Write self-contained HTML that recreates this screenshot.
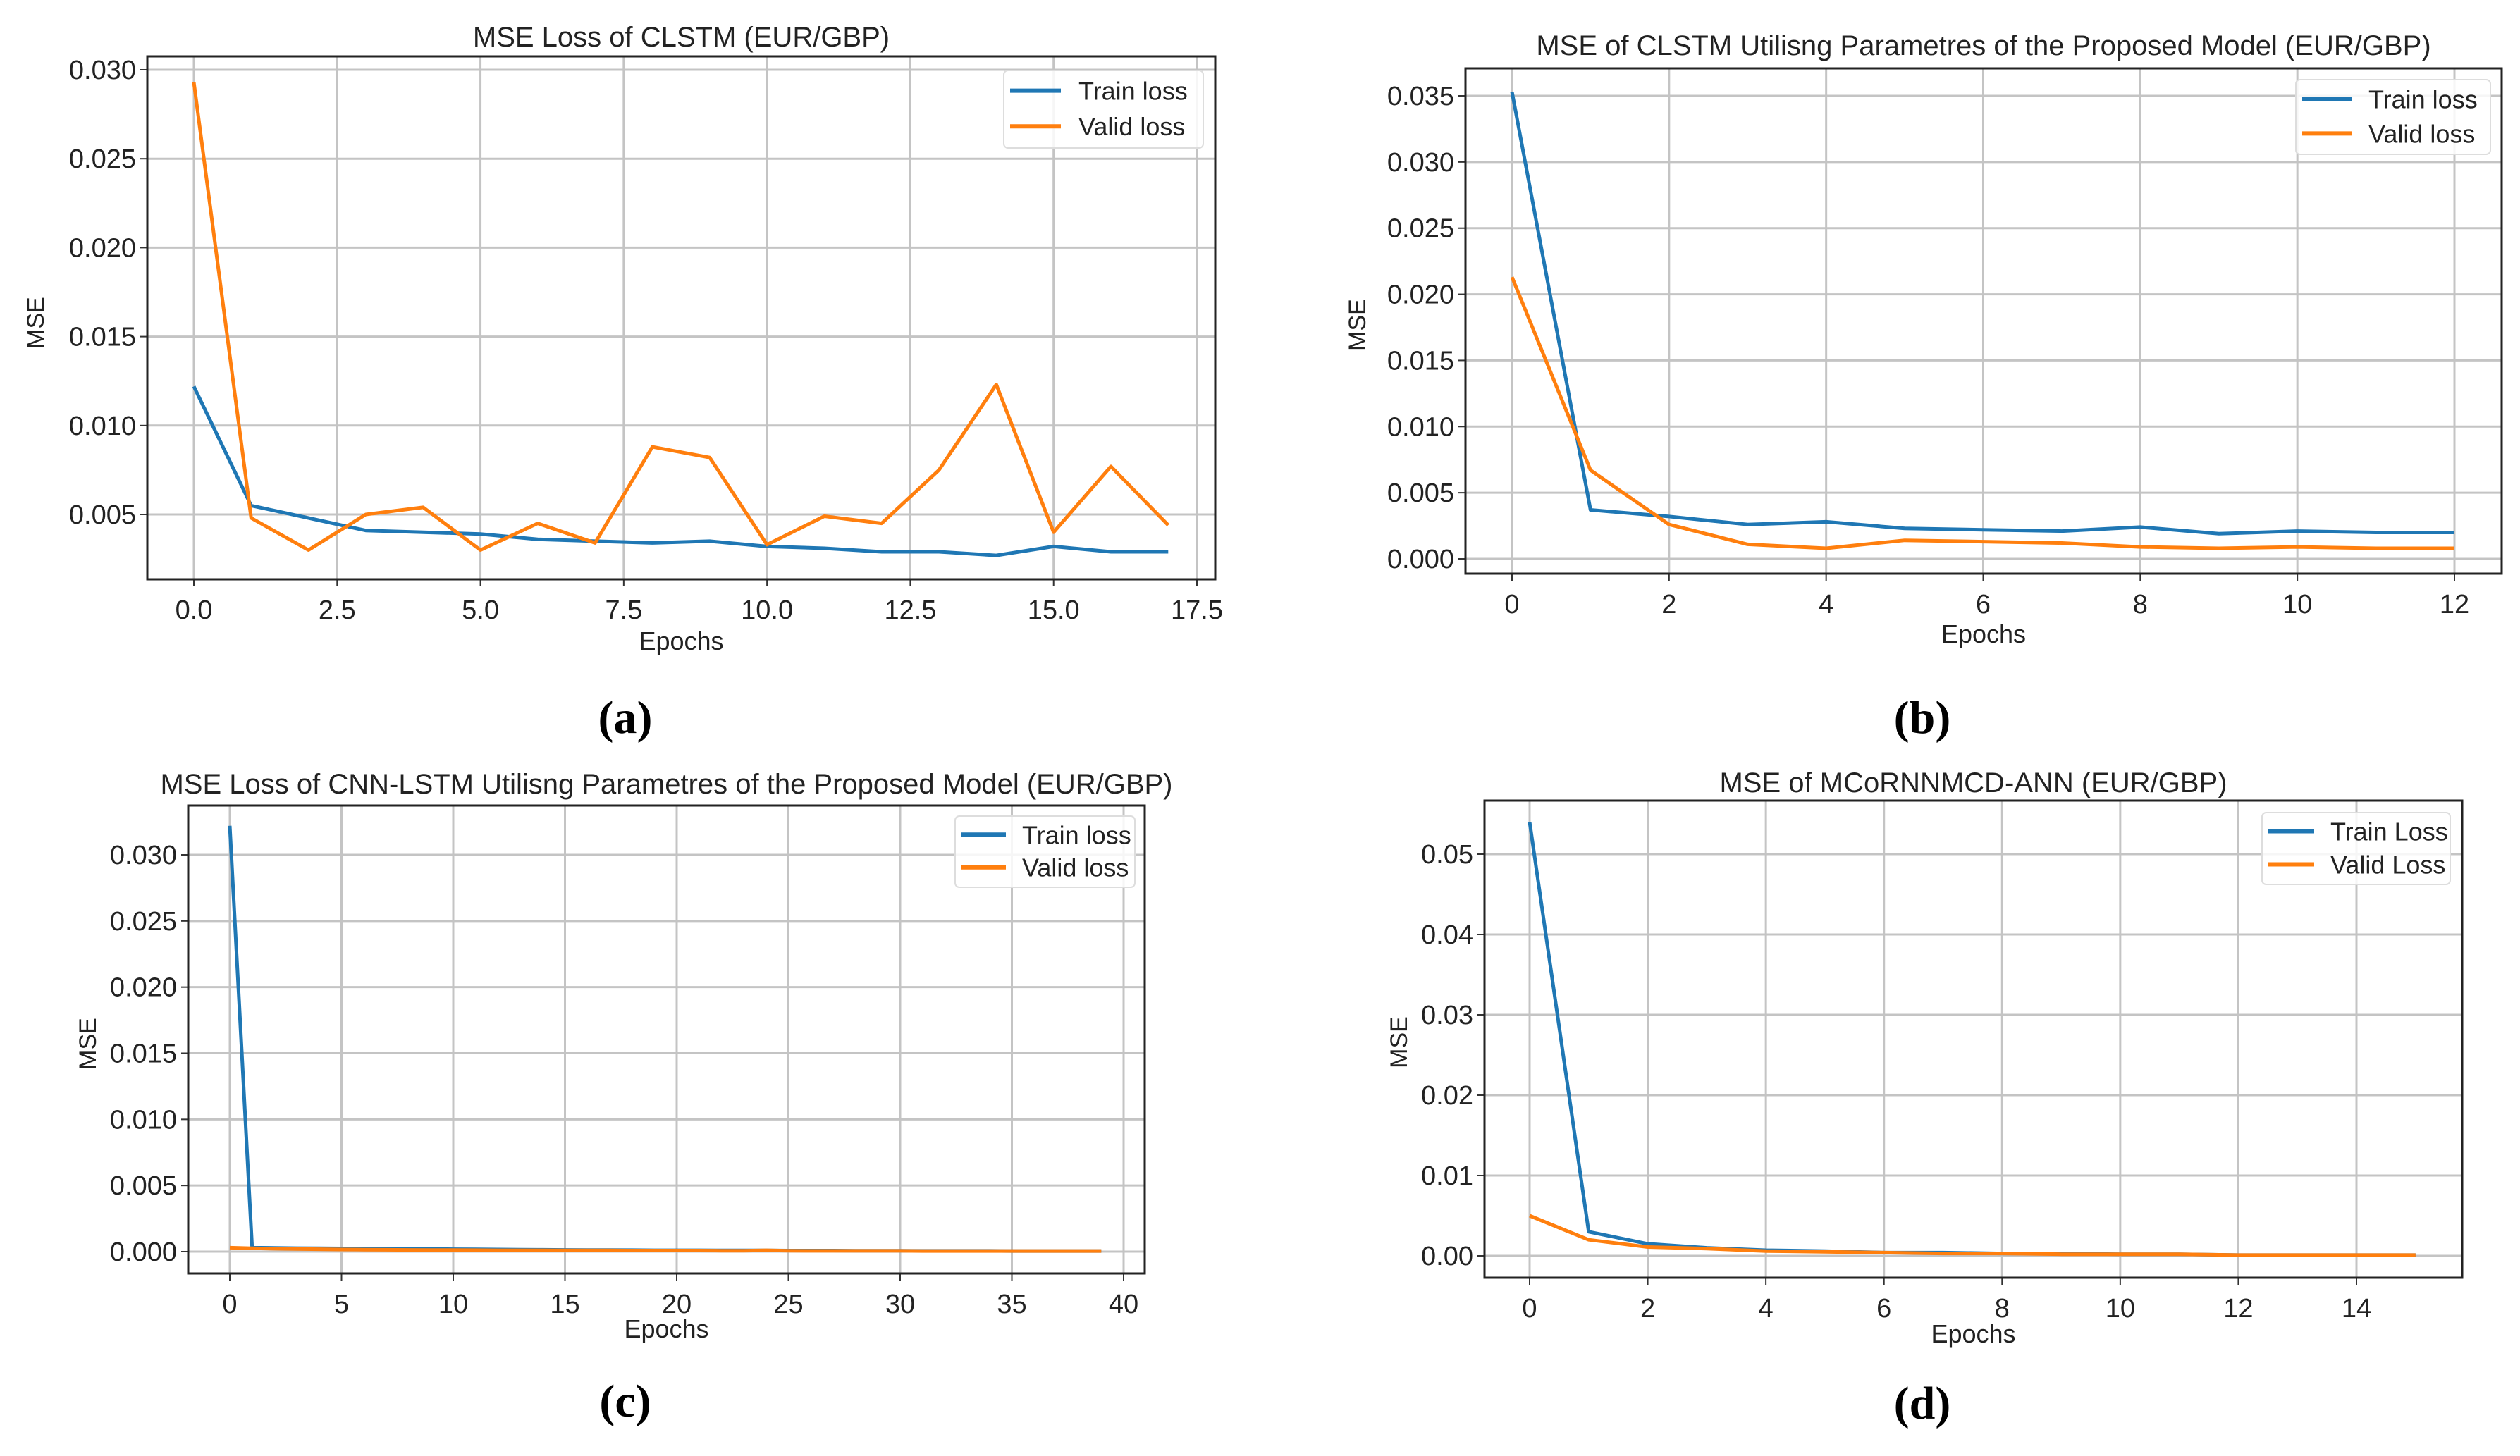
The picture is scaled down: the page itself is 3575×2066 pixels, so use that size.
<!DOCTYPE html>
<html><head><meta charset="utf-8">
<style>
html,body{margin:0;padding:0;background:#fff;}
svg{display:block;}
text{font-family:"Liberation Sans","DejaVu Sans",sans-serif;fill:#222;}
.lab{font-family:"Liberation Serif",serif;font-weight:bold;fill:#000;}
</style></head>
<body>
<svg id="fig" width="3575" height="2066" viewBox="0 0 3575 2066" xmlns="http://www.w3.org/2000/svg"></svg>
<script>
// Panel (a)
const aEpochs = [0,1,2,3,4,5,6,7,8,9,10,11,12,13,14,15,16,17];
const aTrain = [0.0122,0.0055,0.0048,0.0041,0.0040,0.0039,0.0036,0.0035,0.0034,0.0035,0.0032,0.0031,0.0029,0.0029,0.0027,0.0032,0.0029,0.0029];
const aValid = [0.0293,0.0048,0.0030,0.0050,0.0054,0.0030,0.0045,0.0034,0.0088,0.0082,0.0033,0.0049,0.0045,0.0075,0.0123,0.0040,0.0077,0.0044];
const aXTicks = [0,2.5,5,7.5,10,12.5,15,17.5];
const aXLabels = ["0.0","2.5","5.0","7.5","10.0","12.5","15.0","17.5"];
const aYTicks = [0.005,0.010,0.015,0.020,0.025,0.030];
const aYLabels = ["0.005","0.010","0.015","0.020","0.025","0.030"];
// Panel (b)
const bEpochs = [0,1,2,3,4,5,6,7,8,9,10,11,12];
const bTrain = [0.0353,0.0037,0.0032,0.0026,0.0028,0.0023,0.0022,0.0021,0.0024,0.0019,0.0021,0.0020,0.0020];
const bValid = [0.0213,0.0067,0.0026,0.0011,0.0008,0.0014,0.0013,0.0012,0.0009,0.0008,0.0009,0.0008,0.0008];
const bXTicks = [0,2,4,6,8,10,12];
const bXLabels = ["0","2","4","6","8","10","12"];
const bYTicks = [0,0.005,0.010,0.015,0.020,0.025,0.030,0.035];
const bYLabels = ["0.000","0.005","0.010","0.015","0.020","0.025","0.030","0.035"];
// Panel (c)
const cEpochs = [0,1,2,3,4,5,6,7,8,9,10,11,12,13,14,15,16,17,18,19,20,21,22,23,24,25,26,27,28,29,30,31,32,33,34,35,36,37,38,39];
const cTrain = [0.0322,0.0003,0.00028,0.00026,0.00025,0.00024,0.00022,0.00021,0.0002,0.00019,0.00018,0.00017,0.00016,0.00015,0.00014,0.00013,0.00012,0.00012,0.00011,0.0001,0.0001,0.0001,0.00009,0.00009,0.00009,0.00008,0.00008,0.00008,0.00007,0.00007,0.00007,0.00006,0.00006,0.00006,0.00006,0.00005,0.00005,0.00005,0.00005,0.00005];
const cValid = [0.0003,0.00025,0.00022,0.0002,0.00018,0.00016,0.00015,0.00014,0.00013,0.00012,0.00012,0.00011,0.0001,0.0001,0.0001,0.00009,0.00009,0.00009,0.00008,0.00008,0.00008,0.00008,0.00007,0.00007,0.0001,0.00007,0.00006,0.00006,0.00006,0.00006,0.00006,0.00005,0.00005,0.00005,0.00005,0.00005,0.00005,0.00005,0.00005,0.00005];
const cXTicks = [0,5,10,15,20,25,30,35,40];
const cXLabels = ["0","5","10","15","20","25","30","35","40"];
const cYTicks = [0,0.005,0.010,0.015,0.020,0.025,0.030];
const cYLabels = ["0.000","0.005","0.010","0.015","0.020","0.025","0.030"];
// Panel (d)
const dEpochs = [0,1,2,3,4,5,6,7,8,9,10,11,12,13,14,15];
const dTrain = [0.054,0.003,0.0015,0.001,0.0007,0.0006,0.0004,0.0004,0.0003,0.0003,0.0002,0.0002,0.0001,0.0001,0.0001,0.0001];
const dValid = [0.005,0.002,0.0011,0.0009,0.0006,0.0005,0.0004,0.0003,0.0003,0.0002,0.0002,0.0002,0.0001,0.0001,0.0001,0.0001];
const dXTicks = [0,2,4,6,8,10,12,14];
const dXLabels = ["0","2","4","6","8","10","12","14"];
const dYTicks = [0,0.01,0.02,0.03,0.04,0.05];
const dYLabels = ["0.00","0.01","0.02","0.03","0.04","0.05"];

const NS = "http://www.w3.org/2000/svg";
const svg = document.getElementById('fig');
function mk(tag, attrs, parent, txt){
  const e = document.createElementNS(NS, tag);
  for (const k in attrs) e.setAttribute(k, attrs[k]);
  if (txt !== undefined) e.textContent = txt;
  (parent || svg).appendChild(e);
  return e;
}

function panel(p){
  const g = mk('g', {});
  
  
  const xs = v => p.px0 + (v - p.x0) * (p.px1 - p.px0) / (p.x1 - p.x0);
  const ys = v => p.py0 + (v - p.y0) * (p.py1 - p.py0) / (p.y1 - p.y0);
  // grid
  p.xt.forEach((t, i) => {
    const X = xs(t);
    const gl = mk('line', {x1:X, x2:X, y1:p.T, y2:p.B, stroke:'#c4c4c4', 'stroke-width':3}, g);
    
    
    mk('line', {x1:X, x2:X, y1:p.B, y2:p.B+10, stroke:'#333', 'stroke-width':2}, g);
    const tl = mk('text', {x:X, y:p.B+56, 'font-size':38, 'text-anchor':'middle'}, g, p.xl[i]);
    
    
  });
  p.yt.forEach((t, i) => {
    const Y = ys(t);
    const gl = mk('line', {x1:p.L, x2:p.R, y1:Y, y2:Y, stroke:'#c4c4c4', 'stroke-width':3}, g);
    
    
    mk('line', {x1:p.L-10, x2:p.L, y1:Y, y2:Y, stroke:'#333', 'stroke-width':2}, g);
    const tl = mk('text', {x:p.L-16, y:Y+13, 'font-size':38, 'text-anchor':'end'}, g, p.yl[i]);
    
    
  });
  // series
  const series = [[p.train, '#1f77b4', 'train-loss-line'], [p.valid, '#ff7f0e', 'valid-loss-line']];
  series.forEach(s => {
    const pts = p.ep.map((e, i) => xs(e).toFixed(1) + ',' + ys(s[0][i]).toFixed(1)).join(' ');
    const pl = mk('polyline', {points:pts, fill:'none', stroke:s[1], 'stroke-width':5, 'stroke-linejoin':'round'}, g);
    
    
  });
  // frame
  const fr = mk('rect', {x:p.L, y:p.T, width:p.R-p.L, height:p.B-p.T, fill:'none', stroke:'#222', 'stroke-width':3}, g);
  
  
  // title
  const ti = mk('text', {x:(p.L+p.R)/2, y:p.titleY, 'font-size':40, 'text-anchor':'middle'}, g, p.title);
  
  
  const xt = mk('text', {x:(p.L+p.R)/2, y:p.xlabY, 'font-size':36, 'text-anchor':'middle'}, g, 'Epochs');
  
  
  const yt = mk('text', {x:0, y:0, 'font-size':34, 'text-anchor':'middle', transform:'translate(' + p.ylabX + ',' + p.ylabY + ') rotate(-90)'}, g, 'MSE');
  
  
  // legend
  const lg = mk('g', {}, g);
  
  
  mk('rect', {x:p.lg[0], y:p.lg[1], width:p.lg[2], height:p.lg[3], rx:6, fill:'#fff', 'fill-opacity':0.85, stroke:'#ddd', 'stroke-width':2}, lg);
  const names = p.legNames;
  [['#1f77b4', names[0], 'legend-entry-train'], ['#ff7f0e', names[1], 'legend-entry-valid']].forEach((e, i) => {
    const ly = p.lg[1] + p.lg[3]*(i === 0 ? 0.26 : 0.72);
    const eg = mk('g', {}, lg);
    
    
    mk('line', {x1:p.lg[0]+9, x2:p.lg[0]+9+p.lgLine, y1:ly, y2:ly, stroke:e[0], 'stroke-width':6}, eg);
    mk('text', {x:p.lg[0]+p.lgText, y:ly+13, 'font-size':36}, eg, e[1]);
  });
  const lb = mk('text', {x:p.labX, y:p.labY, 'font-size':66, 'text-anchor':'middle', 'class':'lab'}, g, p.label);
  
  
}

panel({id:'a', L:209, R:1724, T:80, B:822, px0:275, x0:0, px1:1698, x1:17.5, py0:730, y0:0.005, py1:99, y1:0.030,
  ep:aEpochs, train:aTrain, valid:aValid, xt:aXTicks, xl:aXLabels, yt:aYTicks, yl:aYLabels,
  title:'MSE Loss of CLSTM (EUR/GBP)', titleY:66, xlabY:922, ylabX:62, ylabY:458,
  lg:[1424,100,283,110], lgLine:72, lgText:106, legNames:['Train loss','Valid loss'], label:'(a)', labX:887, labY:1040});
panel({id:'b', L:2079, R:3549, T:97, B:814, px0:2145, x0:0, px1:3482, x1:12, py0:793, y0:0, py1:136, y1:0.035,
  ep:bEpochs, train:bTrain, valid:bValid, xt:bXTicks, xl:bXLabels, yt:bYTicks, yl:bYLabels,
  title:'MSE of CLSTM Utilisng Parametres of the Proposed Model (EUR/GBP)', titleY:78, xlabY:912, ylabX:1937, ylabY:461,
  lg:[3257,113,276,106], lgLine:71, lgText:103, legNames:['Train loss','Valid loss'], label:'(b)', labX:2727, labY:1040});
panel({id:'c', L:267, R:1624, T:1143, B:1807, px0:326, x0:0, px1:1594, x1:40, py0:1776, y0:0, py1:1213, y1:0.030,
  ep:cEpochs, train:cTrain, valid:cValid, xt:cXTicks, xl:cXLabels, yt:cYTicks, yl:cYLabels,
  title:'MSE Loss of CNN-LSTM Utilisng Parametres of the Proposed Model (EUR/GBP)', titleY:1126, xlabY:1898, ylabX:136, ylabY:1481,
  lg:[1355,1158,255,101], lgLine:63, lgText:95, legNames:['Train loss','Valid loss'], label:'(c)', labX:887, labY:2010});
panel({id:'d', L:2106, R:3493, T:1136, B:1813, px0:2170, x0:0, px1:3343, x1:14, py0:1782, y0:0, py1:1212, y1:0.05,
  ep:dEpochs, train:dTrain, valid:dValid, xt:dXTicks, xl:dXLabels, yt:dYTicks, yl:dYLabels,
  title:'MSE of MCoRNNMCD-ANN (EUR/GBP)', titleY:1124, xlabY:1905, ylabX:1996, ylabY:1479,
  lg:[3209,1153,267,102], lgLine:65, lgText:97, legNames:['Train Loss','Valid Loss'], label:'(d)', labX:2727, labY:2013});
</script>
</body></html>
